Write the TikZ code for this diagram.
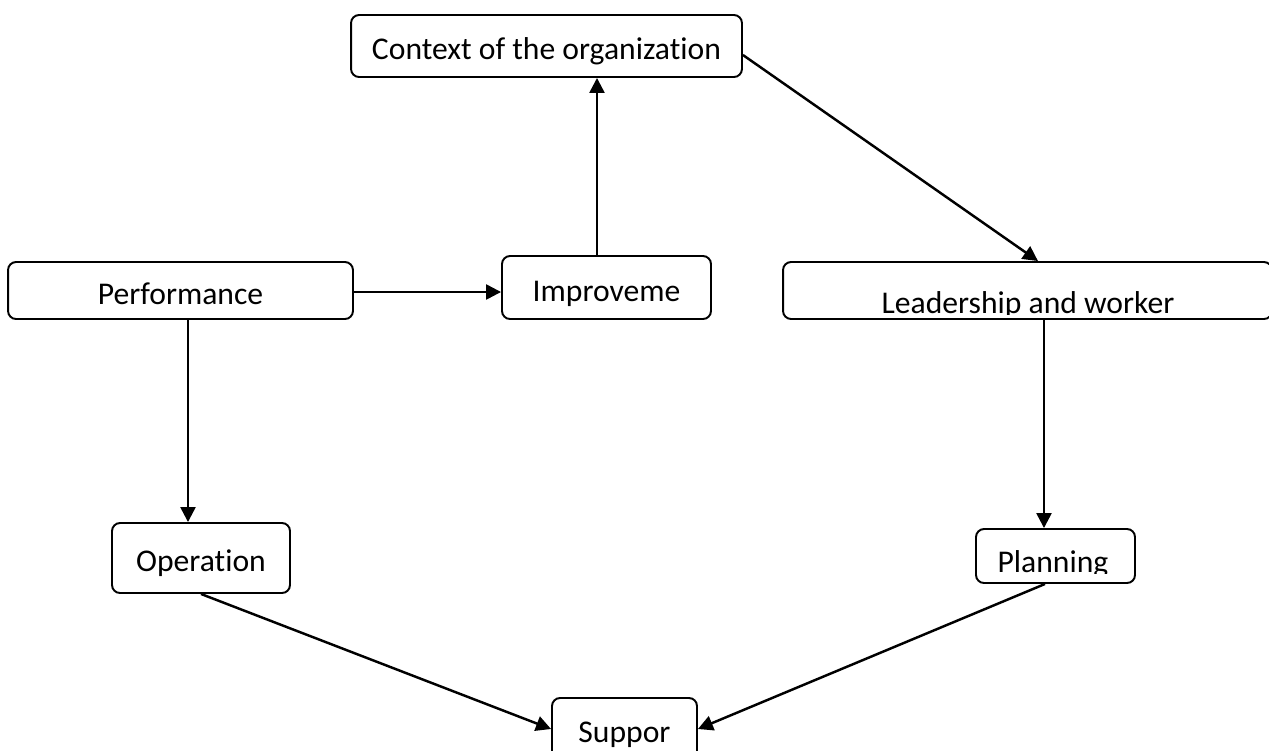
\documentclass[tikz,border=0pt]{standalone}
\usepackage{fontspec}
\setmainfont{Carlito}[Ligatures=NoCommon]
\usetikzlibrary{arrows.meta}

\begin{document}
\begin{tikzpicture}[x=0.02cm,y=-0.02cm,
  box/.style={draw,line width=1.1pt,rounded corners=0.16cm,inner sep=0pt,
    text height=0.54cm,text depth=0cm,font=\fontsize{18}{22}\selectfont},
  lbl/.style={anchor=base,inner sep=0pt,font=\fontsize{18}{22}\selectfont},
  link/.style={line width=1.4pt,-{Triangle[length=0.3cm,width=0.3cm]}}]
\useasboundingbox (0,0) rectangle (1269,751);

% top
\node[box,minimum width=7.82cm,minimum height=1.24cm] (ctx) at (546.5,46) {Context of the organization};

% middle row
\node[box,minimum width=6.9cm,minimum height=1.14cm] (perf) at (180.5,290.5) {Performance};
\node[box,minimum width=4.18cm,minimum height=1.26cm] (impr) at (606.5,287.5) {Improveme};
\node[box,minimum width=9.78cm,minimum height=1.14cm] (lead) at (1027.5,290.5) {};
\begin{scope}
\clip (lead.north west) rectangle ([yshift=0.11cm]lead.south east);
\node[lbl] (leadtxt) at (1028,313) {Leadership and worker};
\end{scope}

% lower row
\node[box,minimum width=3.56cm,minimum height=1.4cm] (oper) at (201,558) {Operation};
\node[box,minimum width=3.18cm,minimum height=1.08cm] (plan) at (1055.5,556) {};
\begin{scope}
\clip (plan.north west) rectangle ([yshift=0.21cm]plan.south east);
\node[lbl] (plantxt) at (1053,572) {Planning};
\end{scope}

% bottom
\node[box,minimum width=2.9cm,minimum height=1.24cm] (supp) at (624.5,729) {Suppor};

% connectors
\coordinate (up) at ([xshift=-0.19cm]impr.north);
\coordinate (down1) at ([xshift=0.15cm]perf.south);
\coordinate (down2) at ([xshift=0.33cm]lead.south);
\draw[link] ([yshift=-0.03cm]perf.east) -- ([yshift=-0.03cm]perf.east -| impr.west);
\draw[link] (up) -- (up |- ctx.south);
\draw[link] ([yshift=-0.18cm]ctx.east) -- ([xshift=0.21cm]lead.north);
\draw[link] (down1) -- (down1 |- oper.north);
\draw[link] (down2) -- (down2 |- plan.north);
\draw[link] (oper.south) -- (supp.west);
\draw[link] ([xshift=-0.21cm]plan.south) -- (supp.east);
\end{tikzpicture}
\end{document}
